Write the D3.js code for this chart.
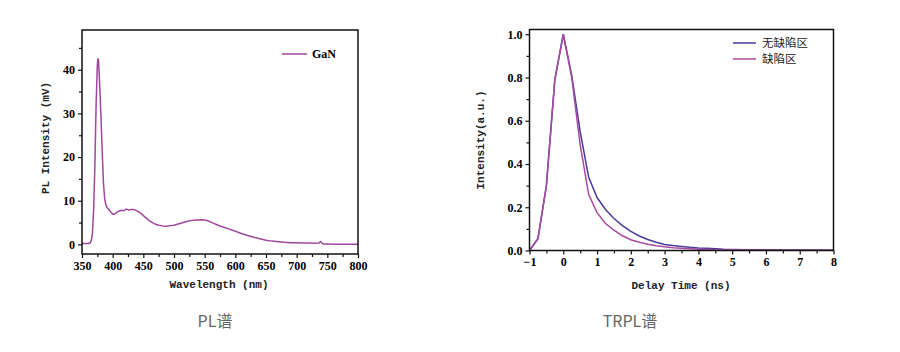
<!DOCTYPE html>
<html>
<head>
<meta charset="utf-8">
<script src="https://cdn.jsdelivr.net/npm/d3@7"></script>
<style>
  body { margin: 0; background: #fff; }
  .tick text { font-family: "Liberation Serif", serif; font-weight: bold; }
  .title { font-family: "Liberation Mono", monospace; font-weight: bold; font-size: 11px; fill: #222; }
  .caption { font-family: "Noto Sans CJK SC", "Noto Sans", sans-serif; font-size: 16px; fill: #666; }
</style>
</head>
<body>
<script>
// PL spectrum
var wavelength = [350,355,360,363,365,367,369,371,373,375,376,377,379,381,383,385,387,389,391,394,397,400,403,406,410,414,418,422,426,430,434,438,442,446,450,455,460,465,470,475,480,485,490,495,500,505,510,515,520,525,530,535,540,545,550,555,560,565,570,575,580,590,600,610,620,630,640,650,660,670,680,690,700,710,720,730,736,739,741,743,750,760,770,780,790,800];
var plIntensity = [0.2,0.2,0.2,0.3,0.8,2.5,8,18,32,41,42.6,42,36,29,21,14,10.5,9,8.4,8,7.4,6.9,6.9,7.3,7.6,7.8,7.7,8.1,7.9,8.0,8.0,7.8,7.5,7.1,6.6,6.0,5.4,5.0,4.6,4.4,4.3,4.1,4.2,4.3,4.4,4.6,4.8,5.0,5.2,5.4,5.5,5.6,5.6,5.65,5.6,5.4,5.1,4.8,4.5,4.2,4.0,3.5,3.0,2.5,2.05,1.65,1.3,0.95,0.75,0.6,0.48,0.4,0.35,0.32,0.3,0.28,0.3,0.65,0.3,0.08,0.07,0.06,0.05,0.05,0.05,0.05];
var plTicksX = [350,400,450,500,550,600,650,700,750,800];
var plTicksY = [0,10,20,30,40];

// TRPL decay
var delay = [-1,-0.75,-0.5,-0.25,0,0.25,0.5,0.75,1,1.25,1.5,1.75,2,2.25,2.5,2.75,3,3.25,3.5,3.75,4,4.25,4.5,4.75,5,5.5,6,6.5,7,7.5,8];
var noDefect = [0,0.055,0.3,0.79,1,0.81,0.55,0.34,0.245,0.19,0.148,0.115,0.088,0.067,0.051,0.038,0.028,0.023,0.019,0.015,0.012,0.01,0.008,0.006,0.005,0.004,0.003,0.0025,0.002,0.0018,0.0015];
var defect = [0,0.055,0.3,0.79,1,0.8,0.49,0.26,0.175,0.125,0.094,0.068,0.05,0.038,0.029,0.022,0.017,0.013,0.01,0.008,0.006,0.005,0.004,0.0035,0.003,0.0025,0.002,0.0015,0.0012,0.001,0.001];
var trplTicksX = [-1,0,1,2,3,4,5,6,7,8];
var trplTicksY = [0,0.2,0.4,0.6,0.8,1.0];
var seriesNames = ['无缺陷区', '缺陷区'];
var seriesColors = ['#4b3a9b', '#a84a9f'];

var svg = d3.select('body').append('svg').attr('width', 900).attr('height', 352);

function frame(x, y) {
  svg.append('rect')
    .attr('x', x.range()[0]).attr('y', y.range()[1])
    .attr('width', x.range()[1] - x.range()[0])
    .attr('height', y.range()[0] - y.range()[1])
    .attr('fill', 'none').attr('stroke', '#111').attr('stroke-width', 1.5);
}

function axes(x, y, xt, yt, xMinor, yMinor, xf, yf) {
  var b = y.range()[0], l = x.range()[0];
  svg.append('g').attr('transform', `translate(0,${b})`)
    .call(d3.axisBottom(x).tickValues(xMinor).tickSize(3).tickFormat(''))
    .call(function (g) { g.select('.domain').remove(); });
  svg.append('g').attr('transform', `translate(0,${b})`)
    .call(d3.axisBottom(x).tickValues(xt).tickSize(4).tickPadding(3).tickFormat(xf))
    .call(function (g) { g.select('.domain').remove(); g.selectAll('text').attr('font-size', 12); });
  svg.append('g').attr('transform', `translate(${l},0)`)
    .call(d3.axisLeft(y).tickValues(yMinor).tickSize(3).tickFormat(''))
    .call(function (g) { g.select('.domain').remove(); });
  svg.append('g').attr('transform', `translate(${l},0)`)
    .call(d3.axisLeft(y).tickValues(yt).tickSize(4).tickPadding(3).tickFormat(yf))
    .call(function (g) { g.select('.domain').remove(); g.selectAll('text').attr('font-size', 12); });
  svg.selectAll('.tick line').attr('stroke', '#111').attr('stroke-width', 1.2);
}

// left chart
var x1 = d3.scaleLinear().domain([350, 800]).range([82, 358]);
var y1 = d3.scaleLinear().domain([-2.2, 49.1]).range([254, 30]);
axes(x1, y1, plTicksX, plTicksY, d3.range(375, 800, 50), d3.range(5, 49, 10), d3.format('d'), d3.format('d'));

svg.append('path')
  .datum(wavelength.map(function (d, i) { return [d, plIntensity[i]]; }))
  .attr('fill', 'none').attr('stroke', '#a0479d').attr('stroke-width', 1.5)
  .attr('d', d3.line().x(function (d) { return x1(d[0]); }).y(function (d) { return y1(d[1]); }));
frame(x1, y1);

svg.append('line').attr('x1', 282).attr('x2', 307).attr('y1', 54).attr('y2', 54)
  .attr('stroke', '#a0479d').attr('stroke-width', 1.5);
svg.append('text').attr('x', 312).attr('y', 58).text('GaN')
  .attr('font-family', 'Liberation Serif').attr('font-weight', 'bold').attr('font-size', 12);

svg.append('text').attr('class', 'title').attr('x', 219).attr('y', 288)
  .attr('text-anchor', 'middle').text('Wavelength (nm)');
svg.append('text').attr('class', 'title')
  .attr('transform', 'translate(49,138) rotate(-90)')
  .attr('text-anchor', 'middle').text('PL Intensity (mV)');
svg.append('text').attr('class', 'caption').attr('x', 215).attr('y', 327)
  .attr('text-anchor', 'middle').text('PL谱');

// right chart
var x2 = d3.scaleLinear().domain([-1, 8]).range([529.5, 833.5]);
var y2 = d3.scaleLinear().domain([0, 1.022]).range([250.5, 29.5]);
axes(x2, y2, trplTicksX, trplTicksY, d3.range(-0.5, 8, 1), d3.range(0.1, 1.0, 0.2), d3.format('d'), d3.format('.1f'));

var line2 = d3.line().x(function (d) { return x2(d[0]); }).y(function (d) { return y2(d[1]); });
[noDefect, defect].forEach(function (s, k) {
  svg.append('path')
    .datum(delay.map(function (d, i) { return [d, s[i]]; }))
    .attr('fill', 'none').attr('stroke', seriesColors[k]).attr('stroke-width', 1.5)
    .attr('d', line2);
});
frame(x2, y2);

seriesNames.forEach(function (n, k) {
  svg.append('line').attr('x1', 733).attr('x2', 756).attr('y1', 43 + k * 16).attr('y2', 43 + k * 16)
    .attr('stroke', seriesColors[k]).attr('stroke-width', 1.5);
  svg.append('text').attr('x', 762).attr('y', 47 + k * 16).text(n)
    .attr('font-family', 'Noto Sans CJK SC').attr('font-size', 11.5).attr('fill', '#222');
});

svg.append('text').attr('class', 'title').attr('x', 681).attr('y', 289)
  .attr('text-anchor', 'middle').text('Delay Time (ns)');
svg.append('text').attr('class', 'title')
  .attr('transform', 'translate(484,140) rotate(-90)')
  .attr('text-anchor', 'middle').text('Intensity(a.u.)');
svg.append('text').attr('class', 'caption').attr('x', 630).attr('y', 327)
  .attr('text-anchor', 'middle').text('TRPL谱');
</script>
</body>
</html>
